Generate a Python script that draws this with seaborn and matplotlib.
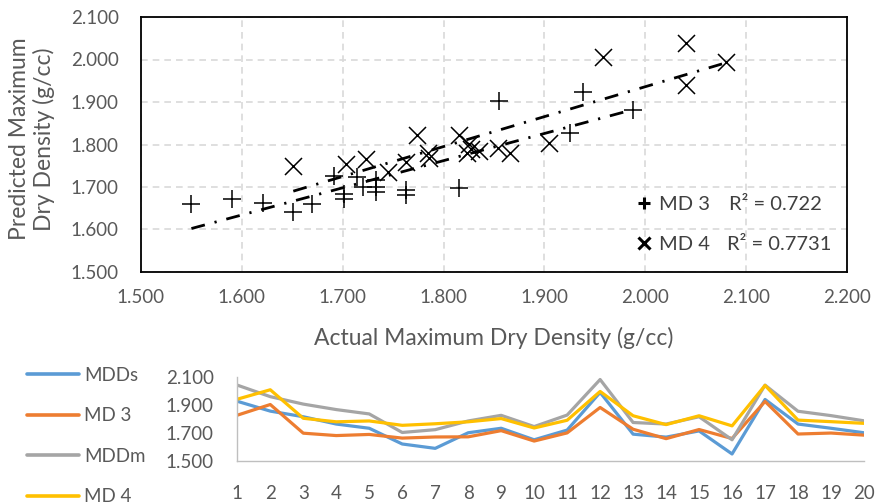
import numpy as np
import pandas as pd
import matplotlib
matplotlib.use("Agg")
import matplotlib.pyplot as plt
import seaborn as sns
from matplotlib.lines import Line2D
from matplotlib.ticker import FormatStrFormatter, FixedLocator

# ---------------- data ----------------
sample = list(range(1, 21))
mdd_s = [1.925, 1.855, 1.815, 1.763, 1.733, 1.621, 1.590, 1.701, 1.733, 1.651,
         1.720, 1.988, 1.691, 1.670, 1.714, 1.550, 1.938, 1.763, 1.733, 1.701]
md3 = [1.826, 1.902, 1.698, 1.681, 1.689, 1.663, 1.671, 1.672, 1.716, 1.642,
       1.700, 1.881, 1.726, 1.659, 1.724, 1.660, 1.924, 1.692, 1.699, 1.684]
mdd_m = [2.040, 1.958, 1.905, 1.866, 1.835, 1.703, 1.723, 1.785, 1.825, 1.745,
         1.827, 2.080, 1.774, 1.763, 1.815, 1.651, 2.040, 1.854, 1.823, 1.786]
md4 = [1.940, 2.007, 1.804, 1.779, 1.785, 1.754, 1.765, 1.779, 1.802, 1.735,
       1.790, 1.995, 1.822, 1.759, 1.822, 1.750, 2.038, 1.791, 1.780, 1.768]

series_names = ["MDDs", "MD 3", "MDDm", "MD 4"]
series_colors = ["#5B9BD5", "#ED7D31", "#A5A5A5", "#FFC000"]
r2_labels = ["R\u00b2 = 0.722", "R\u00b2 = 0.7731"]

# ---------------- style ----------------
sns.set_style("white")
plt.rcParams['font.family'] = ['Lato', 'DejaVu Sans']
TEXT = '#595959'
TICK_FS = 13.5
LABEL_FS = 16.5

W, H = 878, 504
fig = plt.figure(figsize=(W / 100, H / 100), dpi=100)

# ---------------- top scatter ----------------
ax = fig.add_axes([141 / W, 1 - 272 / H, 706 / W, 255 / H])
ax.grid(True, color='#d9d9d9', linestyle=(0, (4, 3)), linewidth=1.2)
ax.set_axisbelow(True)

sns.scatterplot(x=mdd_s, y=md3, marker='+', s=150, color='black',
                linewidth=1.1, ax=ax, zorder=3)
sns.scatterplot(x=mdd_m, y=md4, marker='x', s=150, color='black',
                linewidth=1.1, ax=ax, zorder=3)
dashdot = (0, (5, 3.6, 0.8, 3.6))
sns.regplot(x=mdd_s, y=md3, scatter=False, ci=None, color='black',
            line_kws=dict(linestyle=dashdot, linewidth=2.0, zorder=4), ax=ax)
sns.regplot(x=mdd_m, y=md4, scatter=False, ci=None, color='black',
            line_kws=dict(linestyle=dashdot, linewidth=2.0, zorder=4), ax=ax)

ax.set_xlim(1.5, 2.2)
ax.set_ylim(1.5, 2.1)
ax.xaxis.set_major_locator(FixedLocator(np.round(np.arange(1.5, 2.2001, 0.1), 3)))
ax.yaxis.set_major_locator(FixedLocator(np.round(np.arange(1.5, 2.1001, 0.1), 3)))
ax.xaxis.set_major_formatter(FormatStrFormatter('%.3f'))
ax.yaxis.set_major_formatter(FormatStrFormatter('%.3f'))
ax.tick_params(axis='x', length=0, pad=12, labelsize=TICK_FS, labelcolor=TEXT)
ax.tick_params(axis='y', length=0, pad=16, labelsize=TICK_FS, labelcolor=TEXT)
for sp in ax.spines.values():
    sp.set_visible(True)
    sp.set_color('black')
    sp.set_linewidth(1.3)

ax.set_xlabel("Actual Maximum Dry Density (g/cc)", fontsize=LABEL_FS,
              color=TEXT, va='center')
ax.xaxis.set_label_coords(0.5, (272 - 338) / 255)
ax.set_ylabel("Predicted Maximum\nDry Density (g/cc)", fontsize=LABEL_FS,
              color=TEXT, va='center', ha='center', multialignment='center')
ax.yaxis.set_label_coords((32 - 141) / 706, (272 - 139) / 255)

leg_handles = [
    Line2D([], [], marker='+', markersize=9, markeredgewidth=2.2,
           color='black', linestyle='none'),
    Line2D([], [], marker='x', markersize=8, markeredgewidth=2.2,
           color='black', linestyle='none'),
]
leg = ax.legend(leg_handles, ["MD 3", "MD 4"], loc='upper left',
                bbox_to_anchor=(636 / W, 1 - 196 / H),
                bbox_transform=fig.transFigure, frameon=False,
                fontsize=14.5, handlelength=0.8, handletextpad=0.35,
                labelspacing=1.15, borderpad=0, borderaxespad=0)
for t in leg.get_texts():
    t.set_color('#404040')
fig.text(729 / W, 1 - 205 / H, r2_labels[0], fontsize=14.5, color='#404040',
         ha='left', va='center')
fig.text(727 / W, 1 - 245 / H, r2_labels[1], fontsize=14.5, color='#404040',
         ha='left', va='center')

# ---------------- bottom line chart ----------------
ax2 = fig.add_axes([237.3 / W, 1 - 461 / H, (864 - 237.3) / W, (461 - 376.7) / H])
df = pd.DataFrame({
    'Sample': sample * 4,
    'value': mdd_s + md3 + mdd_m + md4,
    'series': sum([[n] * len(sample) for n in series_names], []),
})
sns.lineplot(data=df, x='Sample', y='value', hue='series',
             hue_order=series_names, palette=series_colors, linewidth=2.3,
             ax=ax2, legend=False, sort=False)
ax2.set_xlim(1, 20)
ax2.set_ylim(1.5, 2.1)
ax2.set_xticks(sample)
ax2.set_yticks([1.5, 1.7, 1.9, 2.1])
ax2.yaxis.set_major_formatter(FormatStrFormatter('%.3f'))
ax2.set_xlabel("")
ax2.set_ylabel("")
ax2.tick_params(axis='x', length=0, pad=17, labelsize=TICK_FS, labelcolor=TEXT)
ax2.tick_params(axis='y', length=0, pad=17, labelsize=TICK_FS, labelcolor=TEXT)
for side in ['top', 'right']:
    ax2.spines[side].set_visible(False)
for side in ['left', 'bottom']:
    ax2.spines[side].set_color('#bfbfbf')
    ax2.spines[side].set_linewidth(1.0)
ax2.patch.set_alpha(0)

h2 = [Line2D([], [], color=c, linewidth=2.6) for c in series_colors]
leg2 = fig.legend(h2, series_names, loc='upper left',
                  bbox_to_anchor=(27 / W, 1 - 367 / H),
                  bbox_transform=fig.transFigure, frameon=False,
                  fontsize=13.5, handlelength=2.75, handletextpad=0.3,
                  labelspacing=1.25, borderpad=0, borderaxespad=0)
for t in leg2.get_texts():
    t.set_color(TEXT)

fig.savefig("out.png", dpi=100)
